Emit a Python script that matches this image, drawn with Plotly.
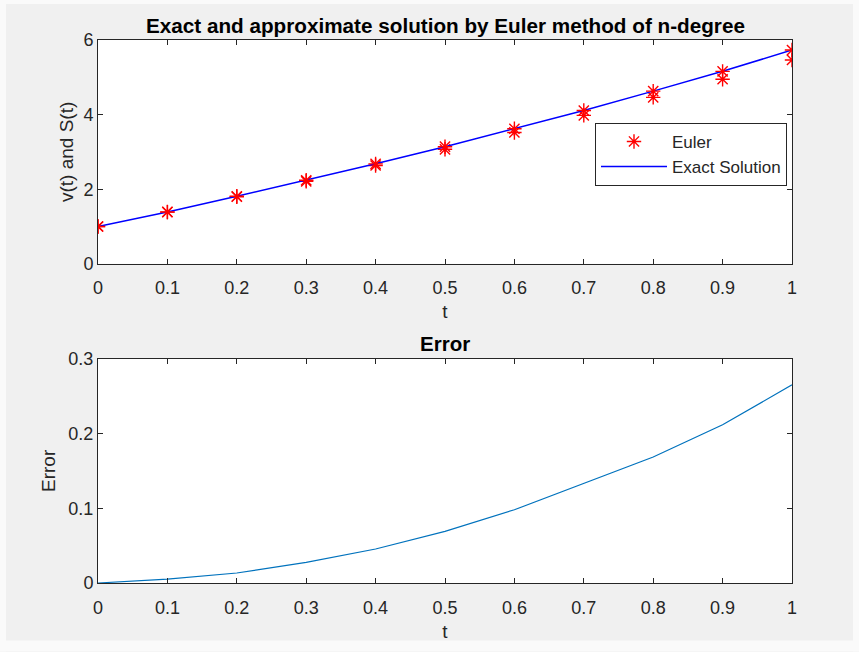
import plotly.graph_objects as go

# Time grid (step h = 0.1)
t = [0.0, 0.1, 0.2, 0.3, 0.4, 0.5, 0.6, 0.7, 0.8, 0.9, 1.0]

# Exact solution and Euler approximation
exact = [1.0, 1.39, 1.81, 2.24, 2.68, 3.14, 3.62, 4.11, 4.63, 5.16, 5.73]
euler = [1.0, 1.385, 1.797, 2.212, 2.635, 3.07, 3.522, 3.978, 4.462, 4.948, 5.465]

# Absolute error of the Euler scheme
error = [0.0, 0.0053, 0.0134, 0.0276, 0.0455, 0.069, 0.098, 0.1328, 0.1685, 0.2117, 0.265]

x_ticks = [0, 0.1, 0.2, 0.3, 0.4, 0.5, 0.6, 0.7, 0.8, 0.9, 1]
x_ticktext = ["0", "0.1", "0.2", "0.3", "0.4", "0.5", "0.6", "0.7", "0.8", "0.9", "1"]
y1_ticks = [0, 2, 4, 6]
y2_ticks = [0, 0.1, 0.2, 0.3]

W, H = 859, 652
ML, MR, MT, MB = 98, 67, 40, 68.5
plot_h = H - MT - MB
top_dom = [(H - MB - 264) / plot_h, 1.0]
bot_dom = [0.0, (H - MB - 359) / plot_h]

FONT = "Liberation Sans, Arial, sans-serif"
AX = "#262626"
GRAY = "#f0f0f0"

fig = go.Figure()

star = dict(symbol="asterisk-open", size=12, color="red",
            line=dict(color="red", width=1.4))

fig.add_trace(go.Scatter(
    x=t, y=euler, mode="markers", name="Euler", marker=star,
    xaxis="x", yaxis="y"))
fig.add_trace(go.Scatter(
    x=t, y=exact, mode="lines", name="Exact Solution",
    line=dict(color="#0000ff", width=1.5),
    xaxis="x", yaxis="y"))
fig.add_trace(go.Scatter(
    x=t, y=exact, mode="markers", showlegend=False, marker=star,
    xaxis="x", yaxis="y"))
fig.add_trace(go.Scatter(
    x=t, y=error, mode="lines", showlegend=False,
    line=dict(color="#0072BD", width=1.2),
    xaxis="x2", yaxis="y2"))

common_x = dict(
    range=[0, 1], tickvals=x_ticks, ticktext=x_ticktext,
    ticks="inside", ticklen=5, tickcolor=AX, tickwidth=1,
    showline=True, linecolor=AX, linewidth=1, mirror="ticks",
    showgrid=False, zeroline=False,
    tickfont=dict(family=FONT, size=18, color=AX),
    ticklabelstandoff=8,
)
common_y = dict(
    ticks="inside", ticklen=5, tickcolor=AX, tickwidth=1,
    showline=True, linecolor=AX, linewidth=1, mirror="ticks",
    showgrid=False, zeroline=False,
    tickfont=dict(family=FONT, size=18, color=AX),
)

fig.update_layout(
    width=W, height=H,
    margin=dict(l=ML, r=MR, t=MT, b=MB),
    paper_bgcolor=GRAY, plot_bgcolor="white",
    font=dict(family=FONT, color=AX),
    xaxis=dict(domain=[0, 1], anchor="y",
               title=dict(text="t", font=dict(size=19, color=AX), standoff=7),
               **common_x),
    yaxis=dict(domain=top_dom, anchor="x", range=[0, 6], tickvals=y1_ticks,
               title=dict(text="v(t) and S(t)", font=dict(size=19, color=AX), standoff=4),
               **common_y),
    xaxis2=dict(domain=[0, 1], anchor="y2",
                title=dict(text="t", font=dict(size=19, color=AX), standoff=8),
                **common_x),
    yaxis2=dict(domain=bot_dom, anchor="x2", range=[0, 0.3], tickvals=y2_ticks,
                ticktext=["0", "0.1", "0.2", "0.3"],
                title=dict(text="Error", font=dict(size=19, color=AX), standoff=7),
                **common_y),
    legend=dict(
        x=(595 - ML) / (W - ML - MR), y=(H - MB - 123) / plot_h,
        xanchor="left", yanchor="top",
        bgcolor="white", bordercolor=AX, borderwidth=1,
        font=dict(family=FONT, size=17, color=AX),
        itemwidth=66, tracegroupgap=0,
    ),
    showlegend=True,
)

# Subplot titles
fig.add_annotation(text="<b>Exact and approximate solution by Euler method of n-degree</b>",
                   x=0.5, xref="paper", y=top_dom[1], yref="paper",
                   yanchor="bottom", xanchor="center", yshift=1, showarrow=False,
                   font=dict(family=FONT, size=20.7, color="black"))
fig.add_annotation(text="<b>Error</b>",
                   x=0.5, xref="paper", y=bot_dom[1], yref="paper",
                   yanchor="bottom", xanchor="center", yshift=2, showarrow=False,
                   font=dict(family=FONT, size=20.5, color="black"))

# Light frame round the figure window
def px_rect(x0, y0, x1, y1):
    pw, ph = W - ML - MR, plot_h
    fig.add_shape(type="rect", xref="paper", yref="paper", layer="above",
                  x0=(x0 - ML) / pw, x1=(x1 - ML) / pw,
                  y0=(H - MB - y1) / ph, y1=(H - MB - y0) / ph,
                  line=dict(width=0), fillcolor="#fafafa")

px_rect(0, 0, 6, H)
px_rect(0, 641, W, H)
px_rect(0, 0, W, 4)
px_rect(853, 0, W, H)

fig.write_html("out.html")
